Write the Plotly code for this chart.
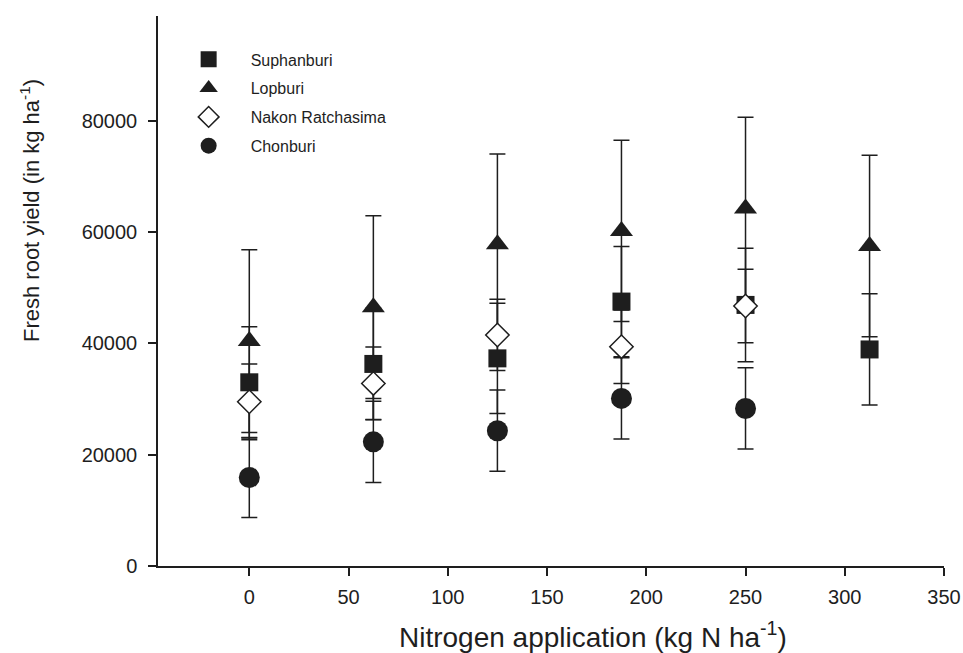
import plotly.graph_objects as go

nitrogen = [0, 62.5, 125, 187.5, 250, 312.5]

suphanburi = [33000, 36300, 37300, 47500, 46900, 38900]
suphanburi_err = [10000, 10000, 9900, 9900, 10200, 10000]

lopburi = [40400, 46500, 57800, 60200, 64200, 57500]
lopburi_err = [16400, 16400, 16200, 16300, 16400, 16300]

nakon = [29500, 32800, 41500, 39400, 46700]
nakon_err = [6800, 6550, 6400, 6600, 6600]

chonburi = [15900, 22300, 24300, 30100, 28300]
chonburi_err = [7200, 7300, 7300, 7300, 7300]

x_ticks = [0, 50, 100, 150, 200, 250, 300, 350]
y_ticks = [0, 20000, 40000, 60000, 80000]

INK = "#1e1e1e"

series = [
    ("Suphanburi", nitrogen, suphanburi, suphanburi_err, "square", 18, INK),
    ("Lopburi", nitrogen, lopburi, lopburi_err, "triangle-up", 20, INK),
    ("Nakon Ratchasima", nitrogen[:5], nakon, nakon_err, "diamond", 18, "white"),
    ("Chonburi", nitrogen[:5], chonburi, chonburi_err, "circle", 21, INK),
]

fig = go.Figure()

# error bars first (under all markers)
for name, xs, ys, es, sym, size, fill in series:
    fig.add_trace(go.Scatter(
        x=xs, y=ys, mode="markers",
        marker=dict(size=1, color="rgba(0,0,0,0)"),
        error_y=dict(type="data", array=es, visible=True, color=INK,
                     thickness=1.5, width=8),
        showlegend=False, hoverinfo="skip",
    ))

for i, (name, xs, ys, es, sym, size, fill) in enumerate(series):
    fig.add_trace(go.Scatter(
        x=xs, y=ys, mode="markers", name=name, legendgroup=f"g{i}",
        marker=dict(symbol=sym, size=size, color=fill,
                    line=dict(color=INK, width=1.5 if fill == "white" else 0)),
    ))

fig.update_layout(
    width=963, height=653,
    margin=dict(l=158, r=19, t=16, b=87, autoexpand=False),
    paper_bgcolor="white", plot_bgcolor="white",
    showlegend=True,
    legend=dict(
        x=0.011, y=0.952, xanchor="left", yanchor="top",
        font=dict(family="Liberation Sans, Arial, sans-serif", size=16, color=INK),
        tracegroupgap=5, itemwidth=74, bgcolor="rgba(0,0,0,0)",
    ),
    xaxis=dict(
        range=[-46, 350], tickmode="array", tickvals=x_ticks,
        ticks="outside", ticklen=8, tickwidth=1.5, tickcolor=INK,
        showline=True, linecolor=INK, linewidth=1.5, automargin=False,
        showgrid=False, zeroline=False, ticklabelstandoff=4,
        tickfont=dict(family="Liberation Sans Narrow, Arial Narrow, Liberation Sans, sans-serif",
                      size=20, color=INK),
    ),
    yaxis=dict(
        range=[0, 98800], tickmode="array", tickvals=y_ticks,
        ticktext=[str(v) for v in y_ticks],
        ticks="outside", ticklen=8, tickwidth=1.5, tickcolor=INK,
        showline=True, linecolor=INK, linewidth=1.5, automargin=False,
        showgrid=False, zeroline=False, ticklabelstandoff=7,
        tickfont=dict(family="Liberation Sans, Arial, sans-serif", size=20, color=INK),
    ),
    annotations=[
        dict(text="Fresh root yield (in kg ha<sup>-1</sup>)", xref="paper", yref="paper",
             x=-0.163, y=0.647, xanchor="center", yanchor="middle", textangle=-90,
             showarrow=False,
             font=dict(family="Liberation Sans, Arial, sans-serif", size=22, color=INK)),
        dict(text="Nitrogen application (kg N ha<sup>-1</sup>)", xref="paper", yref="paper",
             x=0.554, y=-0.125, xanchor="center", yanchor="middle",
             showarrow=False,
             font=dict(family="Liberation Sans Narrow, Arial Narrow, Liberation Sans, sans-serif",
                       size=28, color=INK)),
    ],
    shapes=[
        dict(type="line", xref="paper", yref="paper", x0=-0.012, x1=0, y0=0, y1=0,
             line=dict(color=INK, width=1.5)),
    ],
)

fig.write_html(
    "out.html",
    config={"displayModeBar": False},
    post_script="document.body.style.margin='0';document.body.style.overflow='hidden';",
)
